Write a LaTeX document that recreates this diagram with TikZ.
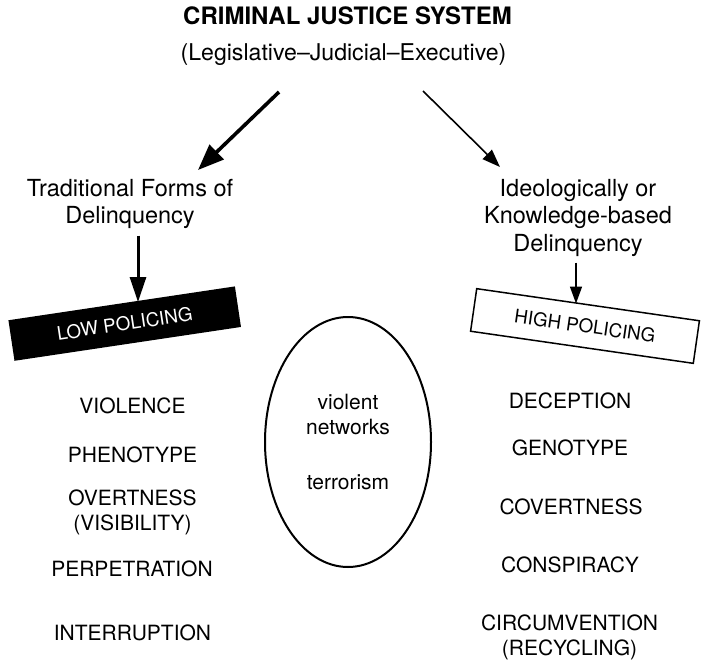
\documentclass[tikz,border=0pt]{standalone}
\usepackage{fontspec}
\setmainfont{TeX Gyre Heros}
\usetikzlibrary{arrows.meta}
\usetikzlibrary{shapes}

\begin{document}
\begin{tikzpicture}[x = 1pt, y = -1pt]
	\tikzstyle{headStyle} = [font = \fontsize{23.5}{27}\selectfont, inner sep = 0pt, align = center]
	\tikzstyle{itemStyle} = [font = \fontsize{21}{25}\selectfont, inner sep = 0pt, align = center]
	\tikzstyle{policingStyle} = [shape = rectangle, minimum width = 229pt, minimum height = 41pt, inner sep = 0pt, font = \fontsize{18.8}{22}\selectfont]
	\tikzstyle{heavyArrow} = [line width = 3.6pt, -{Triangle[length = 26pt, width = 20pt]}]
	\tikzstyle{lightArrow} = [line width = 1.6pt, -{Triangle[length = 18pt, width = 13pt]}]
	\useasboundingbox (0,0) rectangle (701,663);
	% heading
	\node[headStyle, anchor = base, font = \fontsize{24}{28}\selectfont\bfseries] (cjs) at (347.5,25) {CRIMINAL JUSTICE SYSTEM};
	\node[headStyle, anchor = base, font = \fontsize{23.1}{27}\selectfont] (branches) at (343.5,61) {(Legislative–Judicial–Executive)};
	% the two kinds of delinquency
	\node[headStyle, anchor = north] (trad) at (130,179) {Traditional Forms of\\Delinquency};
	\node[headStyle, anchor = north, font = \fontsize{23.5}{27.5}\selectfont] (ideo) at (578,179) {Ideologically or\\Knowledge-based\\Delinquency};
	\coordinate (forkL) at (279,92);
	\coordinate (forkR) at (423,91);
	\coordinate (tradTip) at (198,170);
	\coordinate (ideoTip) at (500,167);
	\draw[heavyArrow] (forkL) -- (tradTip);
	\draw[lightArrow] (forkR) -- (ideoTip);
	% policing boxes
	\node[policingStyle, rotate = 8.5, fill = black, text = white] (low) at (124.7,323.6) {LOW POLICING};
	\node[policingStyle, rotate = -8.2, draw, line width = 1.5pt, minimum width = 225pt, minimum height = 43pt] (high) at (585,326) {HIGH POLICING};
	\coordinate (lowTop) at (138,302);
	\coordinate (highTop) at (576,303.5);
	\draw[heavyArrow, line width = 3pt, -{Triangle[length = 25pt, width = 16pt]}, shorten < = 7pt] (trad.south -| lowTop) -- (lowTop);
	\draw[lightArrow, -{Triangle[length = 17pt, width = 12pt]}, shorten < = 6pt] (ideo.south -| highTop) -- (highTop);
	% left column
	\node[itemStyle, anchor = base] (violence) at (132.5,413) {VIOLENCE};
	\node[itemStyle, anchor = base] (phenotype) at (132.5,462) {PHENOTYPE};
	\node[itemStyle, anchor = north] (overt) at (132.5,490) {OVERTNESS\\(VISIBILITY)};
	\node[itemStyle, anchor = base] (perpetration) at (132,576) {PERPETRATION};
	\node[itemStyle, anchor = base] (interruption) at (132.5,640) {INTERRUPTION};
	% right column
	\node[itemStyle, anchor = base] (deception) at (570,408) {DECEPTION};
	\node[itemStyle, anchor = base] (genotype) at (570,455) {GENOTYPE};
	\node[itemStyle, anchor = base] (covert) at (571,514) {COVERTNESS};
	\node[itemStyle, anchor = base] (conspiracy) at (570,572) {CONSPIRACY};
	\node[itemStyle, anchor = north] (circum) at (569.5,615) {CIRCUMVENTION\\(RECYCLING)};
	% middle ground
	\node[itemStyle, shape = ellipse, draw, line width = 2pt, minimum width = 166pt, minimum height = 250pt] (ring) at (348,442) {violent\\networks\\[30pt]terrorism};
\end{tikzpicture}
\end{document}
